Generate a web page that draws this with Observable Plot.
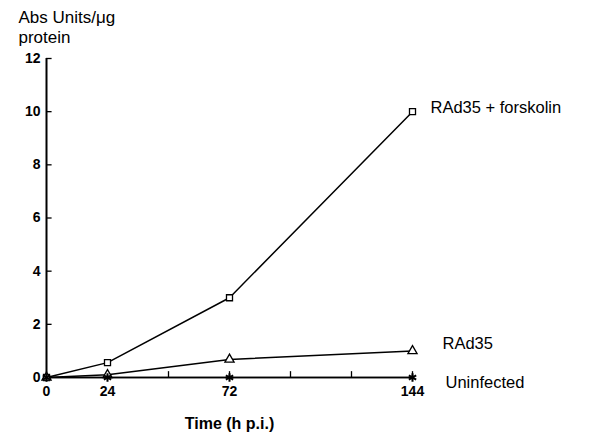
<!DOCTYPE html>
<html>
<head>
<meta charset="utf-8">
<script src="https://cdn.jsdelivr.net/npm/d3@7"></script>
<script src="https://cdn.jsdelivr.net/npm/@observablehq/plot@0.6"></script>
<style>
  html, body { margin: 0; padding: 0; background: #fff; }
  #chart svg { display: block; }
</style>
</head>
<body>
<div id="chart"></div>
<script>
// Data
const hours = [0, 24, 72, 144];
const forskolin = [0, 0.56, 3.0, 10.0];
const rad35 = [0, 0.1, 0.68, 1.0];
const uninfected = [0, 0, 0, 0];
const seriesNames = ["RAd35 + forskolin", "RAd35", "Uninfected"];
const seriesSymbols = ["square", "triangle", "asterisk"];
const yTicks = [0, 2, 4, 6, 8, 10, 12];
const xTicks = [0, 24, 48, 72, 96, 120, 144];
const xTickLabels = [0, 24, 72, 144];
const yTitle = "Abs Units/\u03bcg\nprotein";
const xTitle = "Time (h p.i.)";

const allSeries = [forskolin, rad35, uninfected];
const rows = allSeries.flatMap((vals, i) =>
  vals.map((v, j) => ({ series: seriesNames[i], symbol: seriesSymbols[i], h: hours[j], v }))
);
const ends = allSeries.map((vals, i) => ({ series: seriesNames[i], h: hours[hours.length - 1], v: vals[vals.length - 1] }));
const labelOffsets = { "RAd35 + forskolin": [18, -4], "RAd35": [30, -7], "Uninfected": [33, 5] };

const numFont = "'Liberation Sans Narrow', 'Arial Narrow', 'Liberation Sans', sans-serif";
const textFont = "'Liberation Sans', Arial, sans-serif";

const chart = Plot.plot({
  width: 591,
  height: 435,
  marginLeft: 46,
  marginRight: 179,
  marginTop: 58,
  marginBottom: 58,
  style: { background: "#fff", color: "#000", fontFamily: textFont },
  x: { domain: [0, 144] },
  y: { domain: [0, 12] },
  marks: [
    Plot.axisY(yTicks, { tickSize: 0, tickPadding: 6, label: null, fontFamily: numFont, fontWeight: "bold", fontSize: 14 }),
    Plot.axisX(xTickLabels, { tickSize: 0, tickPadding: 9, label: null, fontFamily: numFont, fontWeight: "bold", fontSize: 14 }),
    Plot.ruleX([0], { y1: 0, y2: 12, strokeWidth: 2 }),
    Plot.ruleY([0], { x1: 0, x2: 144, strokeWidth: 1.5 }),
    Plot.ruleY(yTicks, { x1: 0, x2: 2.2, strokeWidth: 1.3 }),
    Plot.ruleX(xTicks, { y1: 0, y2: 0.22, strokeWidth: 1.3 }),
    Plot.line(rows, { x: "h", y: "v", z: "series", stroke: "#000", strokeWidth: 1.5 }),
    Plot.dot(rows.filter(d => d.symbol !== "asterisk"), { x: "h", y: "v", symbol: "symbol", r: 3.4, stroke: "#000", fill: "#fff", strokeWidth: 1.3 }),
    Plot.dot(rows.filter(d => d.symbol === "asterisk"), { x: "h", y: "v", symbol: "symbol", r: 4, stroke: "#000", strokeWidth: 2 }),
    ...ends.map(d => Plot.text([d], {
      x: "h", y: "v", text: "series", textAnchor: "start",
      dx: labelOffsets[d.series][0], dy: labelOffsets[d.series][1],
      fontSize: 16.5, fontFamily: textFont, fill: "#000",
      style: "letter-spacing:1.1px"
    })),
    Plot.text([yTitle], {
      frameAnchor: "top-left", textAnchor: "start", lineAnchor: "top",
      dx: -28, dy: -49, lineHeight: 1.15, fontSize: 17, fontFamily: textFont, fill: "#000",
      style: "letter-spacing:0.5px"
    }),
    Plot.text([xTitle], {
      x: () => 72, frameAnchor: "bottom", lineAnchor: "middle",
      dy: 46, fontSize: 16, fontWeight: "bold", fontFamily: numFont, fill: "#000"
    })
  ]
});
document.getElementById("chart").append(chart);
</script>
</body>
</html>
